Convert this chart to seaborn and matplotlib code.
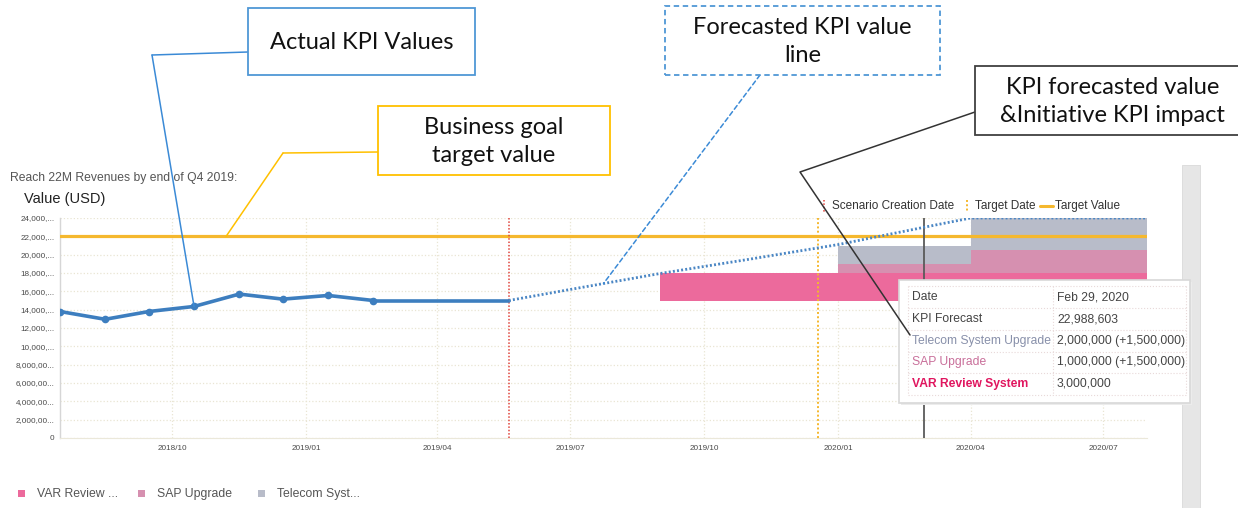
import numpy as np
import pandas as pd
import matplotlib
matplotlib.use("Agg")
import matplotlib.pyplot as plt
import matplotlib.dates as mdates
from matplotlib.patches import Rectangle, ConnectionPatch
from matplotlib.lines import Line2D
import seaborn as sns

# ---------------- data ----------------
actual_dates = ["2018-07-16", "2018-08-16", "2018-09-15", "2018-10-16",
                "2018-11-16", "2018-12-16", "2019-01-16", "2019-02-16"]
actual_values = [13_800_000, 12_950_000, 13_800_000, 14_350_000,
                 15_700_000, 15_150_000, 15_550_000, 15_000_000]

scenario_date = "2019-05-20"
target_date = "2019-12-18"
target_value = 22_000_000
hover_date = "2020-02-29"
hover_forecast = 22_988_603

forecast_dates = ["2019-05-20", "2019-07-01", "2019-09-01", "2019-11-01",
                  "2020-01-01", "2020-02-29", "2020-04-01", "2020-07-31"]
forecast_values = [15_000_000, 16_200_000, 17_950_000, 19_500_000,
                   21_100_000, 22_988_603, 24_000_000, 24_000_000]

# initiative impact periods (stacked on top of the last actual value)
period_starts = ["2019-09-01", "2020-01-01", "2020-04-01"]
period_end = "2020-07-31"
impact_base = actual_values[-1]
legend_labels = ["VAR Review ...", "SAP Upgrade", "Telecom Syst..."]
var_impact = [3_000_000, 3_000_000, 3_000_000]
sap_impact = [0, 1_000_000, 2_500_000]
telecom_impact = [0, 2_000_000, 3_500_000]

y_ticks = list(range(0, 24_000_001, 2_000_000))
y_tick_labels = ["0", "2,000,00...", "4,000,00...", "6,000,00...", "8,000,00...",
                 "10,000,...", "12,000,...", "14,000,...", "16,000,...",
                 "18,000,...", "20,000,...", "22,000,...", "24,000,..."]
x_tick_dates = ["2018-10-01", "2019-01-01", "2019-04-01", "2019-07-01",
                "2019-10-01", "2020-01-01", "2020-04-01", "2020-07-01"]
x_tick_labels = ["2018/10", "2019/01", "2019/04", "2019/07",
                 "2019/10", "2020/01", "2020/04", "2020/07"]
x_range = ["2018-07-16", "2020-07-31"]

tooltip_rows = [("Date", "Feb 29, 2020"),
                ("KPI Forecast", "22,988,603"),
                ("Telecom System Upgrade", "2,000,000 (+1,500,000)"),
                ("SAP Upgrade", "1,000,000 (+1,500,000)"),
                ("VAR Review System", "3,000,000")]

# ---------------- style ----------------
sns.set_style("white")
plt.rcParams["font.family"] = ["Liberation Sans", "DejaVu Sans"]

BLUE = "#3d7ebf"
ORANGE = "#f5b82e"
RED = "#e0443c"
VAR_C = "#ec6a9c"
SAP_C = "#d690b0"
TEL_C = "#b8bcc9"

W, H = 1238, 508
fig = plt.figure(figsize=(W / 100, H / 100), dpi=100)
fig.patch.set_facecolor("white")


def fxy(px, py):
    """pixel position (from top-left) -> figure fraction"""
    return (px / W, 1 - py / H)


def dnum(d):
    return mdates.date2num(pd.to_datetime(d))


ax = fig.add_axes([60 / W, 1 - 438 / H, (1147 - 60) / W, (438 - 218) / H])

# ---- initiative impact blocks ----
starts = np.array([dnum(d) for d in period_starts])
ends = np.append(starts[1:], dnum(period_end))
widths = ends - starts
var_arr = np.array(var_impact, dtype=float)
sap_arr = np.array(sap_impact, dtype=float)
tel_arr = np.array(telecom_impact, dtype=float)
base = np.full(len(starts), impact_base, dtype=float)

ax.bar(starts, var_arr, width=widths, bottom=base, align="edge",
       color=VAR_C, linewidth=0, zorder=2)
ax.bar(starts, sap_arr, width=widths, bottom=base + var_arr, align="edge",
       color=SAP_C, linewidth=0, zorder=2)
ax.bar(starts, tel_arr, width=widths, bottom=base + var_arr + sap_arr, align="edge",
       color=TEL_C, linewidth=0, zorder=2)

# ---- reference lines ----
ax.axhline(target_value, color=ORANGE, lw=2.3, zorder=3)
ax.axvline(dnum(scenario_date), color=RED, lw=1.1, ls=(0, (1, 1.2)), zorder=3)
ax.axvline(dnum(target_date), color=ORANGE, lw=1.4, ls=(0, (1, 1.2)), zorder=3)
ax.axvline(dnum(hover_date), color="#5a5a5a", lw=1.3, zorder=3)

# ---- actual KPI line ----
ax_x = [dnum(d) for d in actual_dates]
sns.lineplot(x=ax_x, y=actual_values, ax=ax, color=BLUE, lw=2.6,
             marker="o", markersize=5.5, markeredgewidth=0, zorder=5)
sns.lineplot(x=[ax_x[-1], dnum(scenario_date)], y=[actual_values[-1]] * 2, ax=ax,
             color=BLUE, lw=2.6, zorder=5)

# ---- forecast line ----
fc_x = [dnum(d) for d in forecast_dates]
sns.lineplot(x=fc_x, y=forecast_values, ax=ax, color="#4a86c4", lw=2.0,
             linestyle=(0, (0.7, 0.8)), zorder=6)

# ---- axes ----
ax.set_xlim(dnum(x_range[0]), dnum(x_range[1]))
ax.set_ylim(0, 24_000_000)
ax.set_yticks(y_ticks)
ax.set_yticklabels(y_tick_labels)
ax.set_xticks([dnum(d) for d in x_tick_dates])
ax.set_xticklabels(x_tick_labels)
ax.tick_params(axis="both", length=0, labelsize=5.9, colors="#4a4a4a")
ax.tick_params(axis="y", pad=4)
ax.tick_params(axis="x", pad=5)
ax.grid(True, color="#e9e5d3", ls=":", lw=0.9)
ax.set_axisbelow(True)
for s in ["top", "right"]:
    ax.spines[s].set_visible(False)
ax.spines["left"].set_color("#d6d6d6")
ax.spines["bottom"].set_color("#ebe8da")
ax.spines["left"].set_linewidth(1)
ax.spines["bottom"].set_linewidth(0.8)
ax.set_xlabel("")
ax.set_ylabel("")

# ---- titles ----
fig.text(*fxy(10, 178), "Reach 22M Revenues by end of Q4 2019:", fontsize=8.7,
         color="#555555", va="center", ha="left")
fig.text(*fxy(24, 199), "Value (USD)", fontsize=10.5, color="#222222",
         va="center", ha="left")

# ---- top legend ----
fig.add_artist(Line2D([824 / W] * 2, [1 - 200 / H, 1 - 212 / H], color=RED,
                      lw=1.1, ls=(0, (1, 1.2))))
fig.text(*fxy(832, 206), "Scenario Creation Date", fontsize=8.5, color="#333333",
         va="center", ha="left")
fig.add_artist(Line2D([967 / W] * 2, [1 - 200 / H, 1 - 212 / H], color=ORANGE,
                      lw=1.4, ls=(0, (1, 1.2))))
fig.text(*fxy(975, 206), "Target Date", fontsize=8.5, color="#333333",
         va="center", ha="left")
fig.add_artist(Line2D([1040 / W, 1053 / W], [1 - 206 / H] * 2, color=ORANGE, lw=2.2))
fig.text(*fxy(1055, 206), "Target Value", fontsize=8.5, color="#333333",
         va="center", ha="left")

# ---- bottom legend ----
for lx, col, lab in zip([18, 138, 258], [VAR_C, SAP_C, TEL_C], legend_labels):
    fig.add_artist(Rectangle(fxy(lx, 497), 7 / W, 7 / H, transform=fig.transFigure,
                             facecolor=col, edgecolor="none"))
    fig.text(*fxy(lx + 19, 494), lab, fontsize=8.8, color="#555555",
             va="center", ha="left")

# ---- scroll bar strip on the right ----
fig.add_artist(Rectangle(fxy(1182, 508), 18 / W, (508 - 165) / H,
                         transform=fig.transFigure, facecolor="#e6e6e6",
                         edgecolor="#d9d9d9", lw=0.6))

# ---- tooltip ----
fig.add_artist(Rectangle(fxy(901, 405), (1192 - 901) / W, (405 - 282) / H,
                         transform=fig.transFigure, facecolor="#ececec",
                         edgecolor="none", zorder=9))
fig.add_artist(Rectangle(fxy(899, 403), (1190 - 899) / W, (403 - 280) / H,
                         transform=fig.transFigure, facecolor="white",
                         edgecolor="#d8d8d8", lw=1.2, zorder=10))
row_edges = [286, 308, 330, 352, 373, 395]
col_edges = [908, 1053, 1186]
for ry in row_edges:
    fig.add_artist(Line2D([col_edges[0] / W, col_edges[-1] / W], [1 - ry / H] * 2,
                          color="#e8d9d9", lw=0.8, ls=":", zorder=11))
for cx in col_edges:
    fig.add_artist(Line2D([cx / W] * 2, [1 - row_edges[0] / H, 1 - row_edges[-1] / H],
                          color="#e8d9d9", lw=0.8, ls=":", zorder=11))
label_colors = ["#444444", "#444444", "#8890aa", "#c96f9a", "#e0165f"]
label_weights = ["normal", "normal", "normal", "normal", "bold"]
for i, (lab, val) in enumerate(tooltip_rows):
    cy = (row_edges[i] + row_edges[i + 1]) / 2
    fig.text(*fxy(912, cy), lab, fontsize=8.7, color=label_colors[i],
             fontweight=label_weights[i], va="center", ha="left", zorder=12)
    fig.text(*fxy(1057, cy), val, fontsize=8.7, color="#444444",
             va="center", ha="left", zorder=12)

# ---- callout boxes ----
CALLOUT_FONT = ["Lato", "DejaVu Sans"]


def callout(x0, y0, x1, y1, text, edge, ls="-"):
    fig.add_artist(Rectangle(fxy(x0, y1), (x1 - x0) / W, (y1 - y0) / H,
                             transform=fig.transFigure, facecolor="white",
                             edgecolor=edge, lw=1.3, ls=ls, zorder=13))
    fig.text(*fxy((x0 + x1) / 2, (y0 + y1) / 2 + 1), text, fontsize=17,
             family=CALLOUT_FONT, color="#111111", ha="center", va="center",
             linespacing=1.45, zorder=14)


def leader_fig(points, color, ls="-"):
    xs = [p[0] / W for p in points]
    ys = [1 - p[1] / H for p in points]
    fig.add_artist(Line2D(xs, ys, color=color, lw=1.1, ls=ls, zorder=12))


def leader_data(start_px, data_xy, color, ls="-"):
    con = ConnectionPatch(xyA=fxy(*start_px), coordsA=fig.transFigure,
                          xyB=data_xy, coordsB=ax.transData,
                          color=color, lw=1.1, ls=ls, zorder=12)
    fig.add_artist(con)


callout(248, 8, 475, 75, "Actual KPI Values", "#4f97d6")
leader_fig([(248, 52), (152, 55)], "#3b8ad6")
leader_data((152, 55), (ax_x[3], actual_values[3]), "#3b8ad6")

callout(378, 106, 610, 175, "Business goal\ntarget value", "#ffc000")
leader_fig([(378, 152), (283, 153)], "#ffc000")
leader_data((283, 153), (dnum("2018-11-07"), target_value), "#ffc000")

callout(665, 6, 940, 75, "Forecasted KPI value\nline", "#4f97d6", ls=(0, (3, 2)))
pt_x = dnum("2019-07-24")
leader_data((760, 75), (pt_x, np.interp(pt_x, fc_x, forecast_values)), "#3b8ad6",
            ls=(0, (3, 2)))

callout(975, 66, 1250, 135, "KPI forecasted value\n&Initiative KPI impact", "#404040")
leader_fig([(975, 112), (800, 172), (910, 335)], "#333333")

fig.savefig("out.png", dpi=100, facecolor="white")
